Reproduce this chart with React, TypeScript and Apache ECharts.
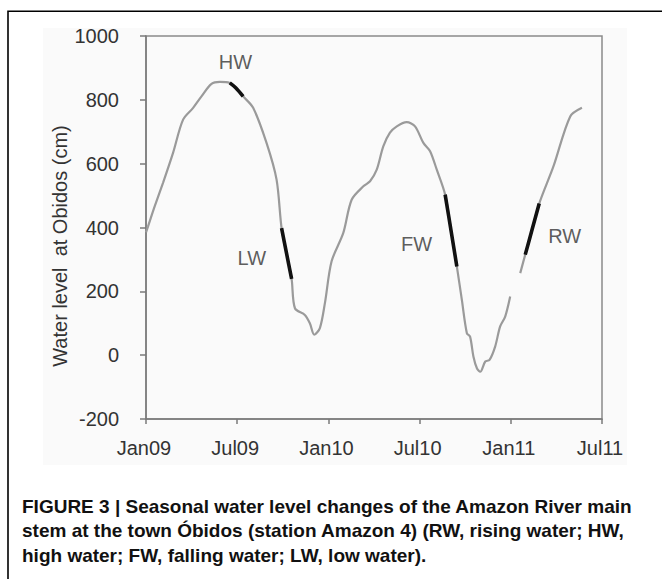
import React, { useEffect, useRef } from "react";
import * as echarts from "echarts";

// x values are months since January 2009
const tickLabels = ["Jan09", "Jul09", "Jan10", "Jul10", "Jan11", "Jul11"];

const months = [
  0, 0.13, 0.57, 1.12, 1.78, 2.44, 3.1, 3.65, 4.31, 4.86, 5.51, 5.9, 6.39, 7.05,
  7.93, 8.59, 8.92, 9.25, 9.58, 9.8, 10.45, 10.78, 11.07, 11.44, 11.77, 12.21,
  12.98, 13.53, 14.3, 14.74, 15.18, 15.61, 16.05, 16.5, 17.15, 17.7, 18.25,
  18.69, 19.13, 19.68, 20.07, 20.45, 20.78, 21.11, 21.32, 21.54, 21.77, 21.99,
  22.32, 22.6, 22.97, 23.3, 23.63, 23.96, 24.3, 24.62, 24.95, 25.41, 25.87,
  26.81, 27.91, 28.68,
];
const levels = [
  385, 403, 466, 540, 634, 738, 775, 811, 850, 856, 853, 838, 811, 775, 665,
  550, 398, 318, 239, 147, 126, 100, 64, 85, 163, 294, 383, 487, 529, 545, 581,
  654, 697, 717, 730, 717, 665, 639, 581, 503, 390, 278, 173, 69, 58, -4, -41,
  -52, -20, -15, 27, 90, 121, 184, null, 257, 315, 395, 475, 592, 748, 775,
];

const hwSegment = [[5.51, 853], [5.9, 838], [6.39, 811]];
const lwSegment = [[8.92, 398], [9.25, 318], [9.58, 239]];
const fwSegment = [[19.68, 503], [20.07, 390], [20.45, 278]];
const rwSegment = [[24.95, 315], [25.41, 395], [25.87, 475]];

const phaseNames = ["HW", "LW", "FW", "RW"];
const phaseMonths = [5.88, 6.96, 17.8, 27.55];
const phaseLevels = [918, 305, 349, 374];

const yAxisTitle = "Water level  at Obidos (cm)";
const captionLines = [
  "FIGURE 3 | Seasonal water level changes of the Amazon River main",
  "stem at the town Óbidos (station Amazon 4) (RW, rising water; HW,",
  "high water; FW, falling water; LW, low water).",
];

const FONT = "'Liberation Sans', Arial, Helvetica, sans-serif";

export default function App() {
  const ref = useRef<HTMLDivElement>(null);
  useEffect(() => {
    document.body.style.margin = "0";
    const chart = echarts.init(ref.current!, null, { renderer: "svg" });
    const segments = [hwSegment, lwSegment, fwSegment, rwSegment];
    chart.setOption({
      animation: false,
      backgroundColor: "#ffffff",
      textStyle: { fontFamily: FONT },
      grid: {
        left: 146,
        top: 36,
        right: 60,
        bottom: 160,
        show: true,
        borderColor: "#8a8a8a",
        borderWidth: 1.5,
        backgroundColor: "transparent",
      },
      xAxis: {
        type: "value",
        min: 0,
        max: 30,
        interval: 6,
        splitLine: { show: false },
        axisLine: { show: true, onZero: false, lineStyle: { color: "#7a7a7a", width: 1.5 } },
        axisTick: { show: true, length: 5, lineStyle: { color: "#7a7a7a", width: 1.5 } },
        axisLabel: {
          fontSize: 20,
          color: "#333",
          margin: 19,
          padding: [0, 4, 0, 0],
          formatter: (v: number) => tickLabels[Math.round(v / 6)] ?? "",
        },
      },
      yAxis: {
        type: "value",
        min: -200,
        max: 1000,
        interval: 200,
        splitLine: { show: false },
        axisLine: { show: true, onZero: false, lineStyle: { color: "#7a7a7a", width: 1.5 } },
        axisTick: { show: true, length: 6, lineStyle: { color: "#7a7a7a", width: 1.5 } },
        axisLabel: {
          fontSize: 20,
          color: "#333",
          margin: 27,
          padding: [9, 0, 0, 0],
          formatter: (v: number) => String(v),
        },
      },
      graphic: [
        {
          type: "rect",
          z: -10,
          silent: true,
          shape: { x: 43, y: 28, width: 584, height: 437 },
          style: { fill: "#fafafa" },
        },
        {
          type: "rect",
          z: 100,
          silent: true,
          shape: { x: 8, y: 11.3, width: 800, height: 800 },
          style: { fill: "none", stroke: "#000", lineWidth: 1.6 },
        },
        {
          type: "text",
          z: 100,
          x: 60,
          y: 246,
          rotation: Math.PI / 2,
          style: {
            text: yAxisTitle,
            fontSize: 20,
            fontFamily: FONT,
            fill: "#333",
            align: "center",
            verticalAlign: "middle",
          },
        },
        ...captionLines.map((line, i) => ({
          type: "text",
          z: 100,
          x: 22,
          y: 506 + i * 24.5,
          style: {
            text: line,
            fontSize: 19,
            fontWeight: "bold",
            fontFamily: FONT,
            fill: "#111",
            align: "left",
            verticalAlign: "middle",
          },
        })),
      ],
      series: [
        {
          type: "line",
          name: "level",
          data: months.map((m, i) => [m, levels[i]]),
          showSymbol: false,
          smooth: 0.3,
          connectNulls: false,
          lineStyle: { color: "#9a9a9a", width: 2.2 },
          z: 2,
        },
        ...segments.map((seg) => ({
          type: "line",
          data: seg,
          showSymbol: false,
          smooth: 0.3,
          lineStyle: { color: "#111", width: 3.6 },
          z: 3,
        })),
        {
          type: "scatter",
          data: phaseNames.map((n, i) => ({ name: n, value: [phaseMonths[i], phaseLevels[i]] })),
          symbolSize: 1,
          itemStyle: { color: "transparent" },
          label: {
            show: true,
            position: "inside",
            formatter: (p: any) => p.name,
            fontSize: 20,
            color: "#333",
            fontFamily: FONT,
          },
          z: 4,
        },
      ],
    });
    return () => chart.dispose();
  }, []);
  return <div ref={ref} style={{ width: 662, height: 579 }} />;
}
